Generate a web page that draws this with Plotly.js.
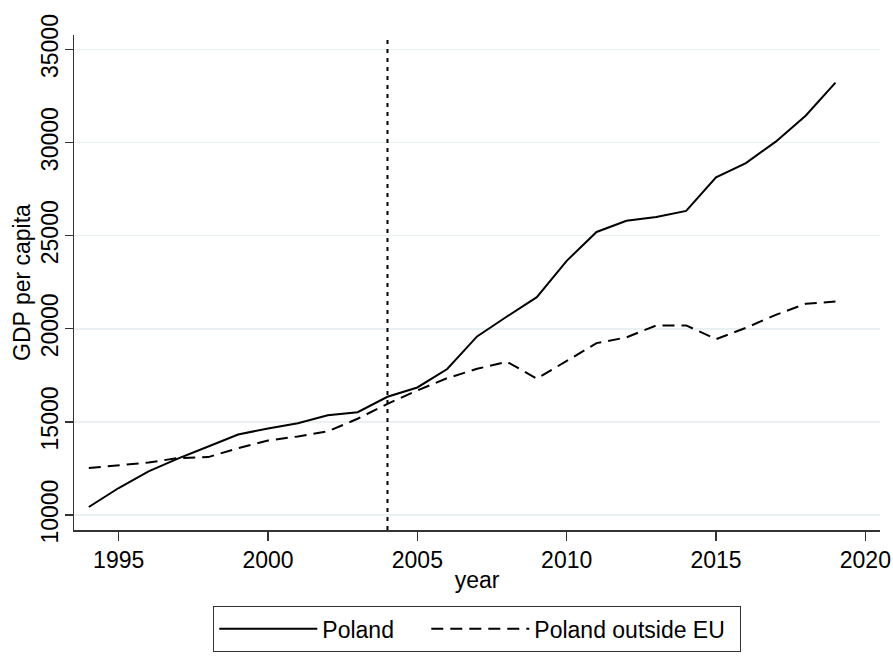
<!DOCTYPE html>
<html>
<head>
<meta charset="utf-8">
<script src="https://cdn.plot.ly/plotly-3.0.1.min.js"></script>
<style>html,body{margin:0;padding:0;background:#fff;}#chart{width:893px;height:672px;}</style>
</head>
<body>
<div id="chart"></div>
<script>
var years = [1994,1995,1996,1997,1998,1999,2000,2001,2002,2003,2004,2005,2006,2007,2008,2009,2010,2011,2012,2013,2014,2015,2016,2017,2018,2019];
var poland = [10430,11450,12340,13040,13680,14320,14650,14930,15360,15520,16350,16850,17840,19590,20660,21700,23650,25200,25800,26010,26330,28130,28900,30050,31440,33220];
var polandOutsideEU = [12520,12650,12820,13060,13110,13590,14000,14220,14490,15170,15970,16690,17350,17850,18230,17320,18280,19230,19540,20180,20180,19445,20050,20750,21340,21460];
var seriesNames = ["Poland", "Poland outside EU"];
var euAccessionYear = 2004;
var yTicks = [10000,15000,20000,25000,30000,35000];
var xTicks = [1995,2000,2005,2010,2015,2020];

var font = "Liberation Sans, Arial, sans-serif";
var fs = 23;
var traces = [
  {x: years, y: poland, name: seriesNames[0], type: "scatter", mode: "lines",
   legendwidth: 99,
   line: {color: "#000000", width: 2}},
  {x: years, y: polandOutsideEU, name: seriesNames[1], type: "scatter", mode: "lines",
   legendwidth: 200,
   line: {color: "#000000", width: 2, dash: "12px,7px"}}
];
var layout = {
  width: 893, height: 672,
  margin: {l: 74, r: 13, t: 35, b: 142},
  paper_bgcolor: "#ffffff", plot_bgcolor: "#ffffff",
  font: {family: font, size: fs, color: "#000000"},
  showlegend: true,
  legend: {orientation: "h", x: 0.5, xanchor: "center", y: -0.1535, yanchor: "top",
    bordercolor: "#333333", borderwidth: 1.3, itemwidth: 98,
    font: {family: font, size: fs, color: "#000000"}, traceorder: "normal"},
  xaxis: {range: [1993.504, 2020.49], tickvals: xTicks, ticks: "outside", ticklen: 9, tickwidth: 1.3,
    tickcolor: "#333333", showline: true, linecolor: "#333333", linewidth: 1.5,
    showgrid: false, zeroline: false,
    title: {text: "year", font: {family: font, size: fs}, standoff: 0},
    tickfont: {family: font, size: fs}},
  yaxis: {range: [9195, 35778], tickvals: yTicks, ticks: "outside", ticklen: 8, tickwidth: 1.3,
    tickcolor: "#333333", showline: true, linecolor: "#333333", linewidth: 1.5,
    showgrid: true, gridcolor: "#e9f0f2", gridwidth: 1.5, zeroline: false,
    tickangle: -90, tickformat: "d", ticklabelstandoff: -3,
    title: {text: "GDP per capita", font: {family: font, size: fs}, standoff: 0},
    tickfont: {family: font, size: fs}},
  shapes: [
    {type: "line", xref: "x", yref: "paper", x0: euAccessionYear, x1: euAccessionYear, y0: 0, y1: 1,
     line: {color: "#000000", width: 2, dash: "4px,5px"}}
  ]
};
Plotly.newPlot("chart", traces, layout, {displayModeBar: false, staticPlot: true});
</script>
</body>
</html>
